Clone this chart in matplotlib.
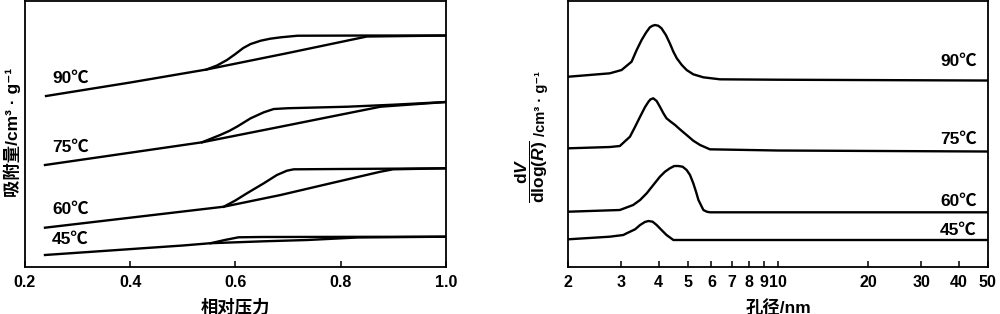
import matplotlib
matplotlib.use("Agg")
import matplotlib.pyplot as plt
import matplotlib.transforms as mtransforms

plt.rcParams['font.family'] = ['Liberation Sans', 'Noto Sans CJK SC', 'DejaVu Sans']
plt.rcParams['font.weight'] = 'bold'
plt.rcParams['mathtext.fontset'] = 'custom'
plt.rcParams['mathtext.rm'] = 'Liberation Sans:bold'
plt.rcParams['mathtext.it'] = 'Liberation Sans:bold:italic'
plt.rcParams['mathtext.bf'] = 'Liberation Sans:bold'

# ---------------- data: N2 isotherms (relative pressure vs adsorbed amount, offset) ----------------
temps = ['90℃', '75℃', '60℃', '45℃']

ads_x_90 = [0.24, 0.40, 0.545, 0.70, 0.85, 1.0]
ads_y_90 = [171, 184.5, 197.5, 214, 230.5, 231.5]
des_x_90 = [0.545, 0.565, 0.584, 0.600, 0.615, 0.629, 0.648, 0.666, 0.686, 0.718, 0.85, 1.0]
des_y_90 = [197.5, 201.5, 207, 213, 219, 223, 226.3, 228.3, 229.7, 231.3, 231.5, 231.5]

ads_x_75 = [0.238, 0.40, 0.5365, 0.686, 0.876, 1.0]
ads_y_75 = [102, 114.3, 124.7, 140.3, 160.3, 165]
des_x_75 = [0.5365, 0.571, 0.588, 0.603, 0.629, 0.654, 0.673, 0.70, 0.813, 0.90, 1.0]
des_y_75 = [124.7, 132, 136, 140.3, 148.7, 154.7, 158, 158.8, 160.3, 162.3, 165]

ads_x_60 = [0.238, 0.40, 0.578, 0.686, 0.781, 0.876, 0.90, 1.0]
ads_y_60 = [39.3, 49.3, 60.3, 72, 83.7, 95.3, 97.7, 98.7]
des_x_60 = [0.578, 0.600, 0.622, 0.654, 0.679, 0.698, 0.711, 1.0]
des_y_60 = [60.3, 66.5, 73.7, 83.7, 92, 96.3, 97.7, 98.7]

ads_x_45 = [0.238, 0.50, 0.553, 0.654, 0.737, 0.832, 1.0]
ads_y_45 = [12, 21.5, 23.8, 25.7, 27, 29.5, 30.3]
des_x_45 = [0.553, 0.58, 0.606, 0.65, 1.0]
des_y_45 = [23.8, 27, 29.7, 30, 30.3]

iso_label_y = [189, 120, 57.5, 27.5]

# ---------------- data: pore size distributions (pore diameter nm vs dV/dlog(R), offset) ----------------
psd_x_90 = [2.0, 2.75, 3.01, 3.25, 3.38, 3.51, 3.63, 3.74, 3.82, 3.89, 3.99, 4.09, 4.23, 4.36,
            4.48, 4.60, 4.78, 4.96, 5.22, 5.64, 6.41, 10, 50]
psd_y_90 = [190.3, 193.7, 197, 205.3, 217, 227, 234.3, 239.7, 241.3, 242, 241.3, 238.7, 232, 223.7,
            215.3, 208.7, 202, 197, 192.7, 189.7, 187.7, 187.3, 186.5]

psd_x_75 = [2.0, 2.75, 2.97, 3.21, 3.34, 3.47, 3.60, 3.70, 3.76, 3.84, 3.94, 4.04, 4.15, 4.25,
            4.39, 4.54, 4.71, 4.96, 5.22, 5.50, 5.93, 10, 50]
psd_y_75 = [118.7, 120, 121, 130.3, 140.3, 150.3, 159.7, 165.3, 167.7, 168.7, 166, 160.3, 153.7, 148.7,
            145.3, 142, 137.7, 132, 126.3, 122, 117.7, 116.5, 115.5]

psd_x_60 = [2.0, 2.97, 3.29, 3.47, 3.65, 3.84, 4.04, 4.20, 4.36, 4.51, 4.65, 4.81, 4.96, 5.09,
            5.22, 5.33, 5.43, 5.64, 5.79, 5.93, 50]
psd_y_60 = [55.3, 57, 62, 67, 73.7, 82, 90.3, 95.3, 98.7, 101, 101, 100.3, 97, 92,
            83.7, 75.3, 67, 57, 55.3, 54.7, 54.7]

psd_x_45 = [2.0, 2.75, 3.05, 3.13, 3.34, 3.47, 3.60, 3.70, 3.82, 3.94, 4.09, 4.25, 4.48, 50]
psd_y_45 = [27.7, 30.3, 32, 33.7, 37.7, 42, 45, 46, 45.3, 42, 37, 32, 27, 27]

psd_label_y = [206, 128, 66, 37]

left_ticks = [0.2, 0.4, 0.6, 0.8, 1.0]
left_ticklabels = ['0.2', '0.4', '0.6', '0.8', '1.0']
right_ticks = [2, 3, 4, 5, 6, 7, 8, 9, 10, 20, 30, 40, 50]
right_ticklabels = ['2', '3', '4', '5', '6', '7', '8', '9', '10', '20', '30', '40', '50']

# ---------------- figure ----------------
fig = plt.figure(figsize=(10, 3.14), dpi=100)
axL = fig.add_axes([0.025, 0.1497, 0.4207, 0.847])
axR = fig.add_axes([0.5683, 0.1497, 0.4194, 0.847])

lw = 1.7
iso = [(ads_x_90, ads_y_90, des_x_90, des_y_90),
       (ads_x_75, ads_y_75, des_x_75, des_y_75),
       (ads_x_60, ads_y_60, des_x_60, des_y_60),
       (ads_x_45, ads_y_45, des_x_45, des_y_45)]
for (ax_, ay_, dx_, dy_), lab, ly in zip(iso, temps, iso_label_y):
    axL.plot(ax_, ay_, color='black', lw=lw, solid_joinstyle='round')
    axL.plot(dx_, dy_, color='black', lw=lw, solid_joinstyle='round')
    axL.text(0.2514, ly, lab, fontsize=12.5, fontweight='bold', ha='left', va='center')

psd = [(psd_x_90, psd_y_90), (psd_x_75, psd_y_75), (psd_x_60, psd_y_60), (psd_x_45, psd_y_45)]
trans = mtransforms.blended_transform_factory(axR.transAxes, axR.transData)
for (px_, py_), lab, ly in zip(psd, temps, psd_label_y):
    axR.plot(px_, py_, color='black', lw=lw, solid_joinstyle='round')
    axR.text(0.974, ly, lab, fontsize=12.5, fontweight='bold', ha='right', va='center', transform=trans)

for ax in (axL, axR):
    ax.set_ylim(0, 266)
    ax.set_yticks([])
    for s in ax.spines.values():
        s.set_linewidth(1.3)
    ax.tick_params(axis='x', direction='in', length=4.5, width=1.1, pad=6,
                   labelsize=11.5, top=False)

axL.set_xlim(0.2, 1.0)
axL.set_xticks(left_ticks)
axL.set_xticklabels(left_ticklabels, fontweight='bold')
axL.set_xlabel('相对压力', fontsize=12.5, fontweight='bold', labelpad=6)

axR.set_xscale('log')
axR.set_xlim(2, 50)
axR.set_xticks(right_ticks)
axR.set_xticklabels(right_ticklabels, fontweight='bold')
axR.xaxis.set_minor_locator(matplotlib.ticker.NullLocator())
axR.set_xlabel('孔径/nm', fontsize=12.5, fontweight='bold', labelpad=6)

fig.text(0.012, 1 - 132 / 314, '吸附量/cm³ · g⁻¹', rotation=90, fontsize=12.5,
         fontweight='bold', ha='center', va='center')
fig.text(0.5315, 1 - 172 / 314, r'$\dfrac{\mathrm{d}V}{\mathrm{dlog}(R)}$', rotation=90,
         fontsize=12.5, ha='center', va='center')
fig.text(0.5415, 1 - 104 / 314, '/cm³ · g⁻¹', rotation=90, fontsize=10.5,
         fontweight='bold', ha='center', va='center')

fig.savefig('out.png', dpi=100)
